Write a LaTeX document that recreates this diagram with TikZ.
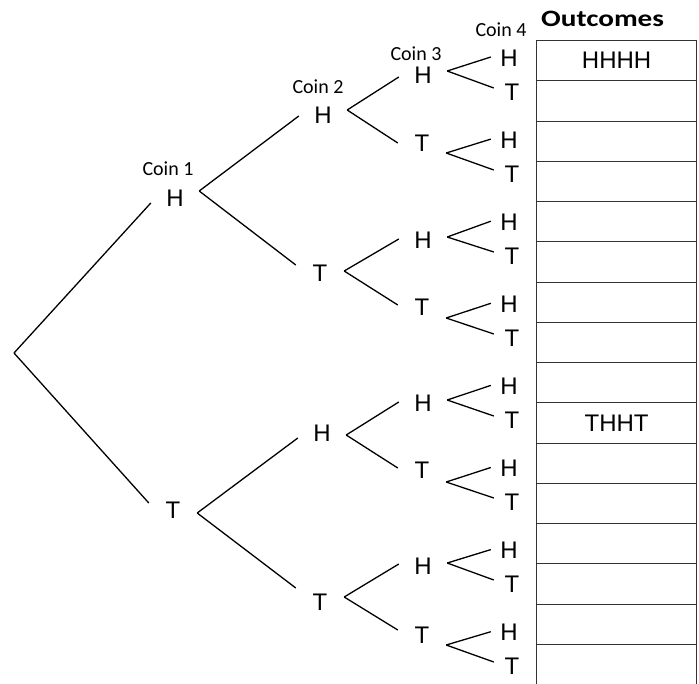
\documentclass[tikz,border=0pt]{standalone}
\usepackage{fontspec}
\setmainfont{Liberation Sans}
\newfontfamily\coinfont{Carlito}
\newfontfamily\headfont{Carlito}[FakeStretch=1.24]
\usetikzlibrary{positioning}
\tikzset{
        coin/.style={inner sep=0pt,minimum width=48pt,font=\fontsize{24}{28}\selectfont},
        leaf/.style={coin,minimum width=36pt},
        heading/.style={inner sep=0pt,font=\coinfont\fontsize{20}{24}\selectfont},
        branch/.style={line width=1.3pt},
        cell/.style={draw=black!80,line width=1.2pt,anchor=north west,inner sep=0pt,
                minimum width=160pt,minimum height=40.25pt}
    }

\begin{document}
\begin{tikzpicture}[x=1pt,y=-1pt]
                    \useasboundingbox (0,0) rectangle (699,683);
                    % outcome table
                    \foreach \i in {1,...,16}
                        \node[cell] (o\i) at (536,40.25*\i-0.25) {};
                    \node[coin] (hhhh) at (o1) {HHHH};
                    \node[coin] (thht) at (o10) {THHT};
                    \node[heading,font=\headfont\bfseries\fontsize{23.5}{28}\selectfont,
                        above=13pt of o1,xshift=-14pt] (outc) {Outcomes};
                    % the four tosses
                    \coordinate (root) at (14,353);
                    \node[coin] (c1-0) at (175,198) {H};
                    \node[coin] (c1-1) at (173,510) {T};
                    \node[coin] (c2-0) at (323,115) {H};
                    \node[coin] (c2-1) at (320,273) {T};
                    \node[coin] (c2-2) at (322,433) {H};
                    \node[coin] (c2-3) at (320,602) {T};
                    \foreach \k/\x/\y/\lt in {0/423/75/H,1/422/143/T,2/423/240/H,3/422/307/T,
                            4/423/403/H,5/422/470/T,6/423/566/H,7/422/635/T}
                        \node[coin] (c3-\k) at (\x,\y) {\lt};
                    \foreach \k in {0,...,7} {
                        \node[leaf] (lh\k) at (509,58+82.1*\k) {H};
                        \node[leaf] (lt\k) at (512,92+82*\k) {T};
                    }
                    \node[heading,above=14pt of c1-0,xshift=-7pt] (coin1) {Coin 1};
                    \node[heading,above=13pt of c2-0,xshift=-5pt] (coin2) {Coin 2};
                    \node[heading,above=6pt of c3-0,xshift=-7pt] (coin3) {Coin 3};
                    \node[heading,above=13pt of lh0,xshift=-8pt] (coin4) {Coin 4};
                    % branches
                    \path[branch]
                        (root) edge ([yshift=-5pt]c1-0.west)
                        (root) edge ([yshift=7pt]c1-1.west);
                    \foreach \a/\sa/\b/\sb in {c1-0/7/c2-0/-1,c1-0/7/c2-1/8,c1-1/-3/c2-2/-5,c1-1/-3/c2-3/14,
                            c2-0/5/c3-0/-2,c2-0/5/c3-1/0,c2-1/2/c3-2/1,c2-1/2/c3-3/2,
                            c2-2/-2/c3-4/1,c2-2/-2/c3-5/2,c2-3/5/c3-6/2,c2-3/5/c3-7/5}
                        \draw[branch] ([yshift=\sa pt]\a.east) -- ([yshift=\sb pt]\b.west);
                    \foreach \k/\s in {0/4,1/-10,2/3,3/-11,4/3,5/-12,6/3,7/-10}
                        \path[branch]
                            ([yshift=\s pt]c3-\k.east) edge ([yshift=1pt]lh\k.west)
                            ([yshift=\s pt]c3-\k.east) edge ([yshift=4pt]lt\k.west);
                \end{tikzpicture}
\end{document}
